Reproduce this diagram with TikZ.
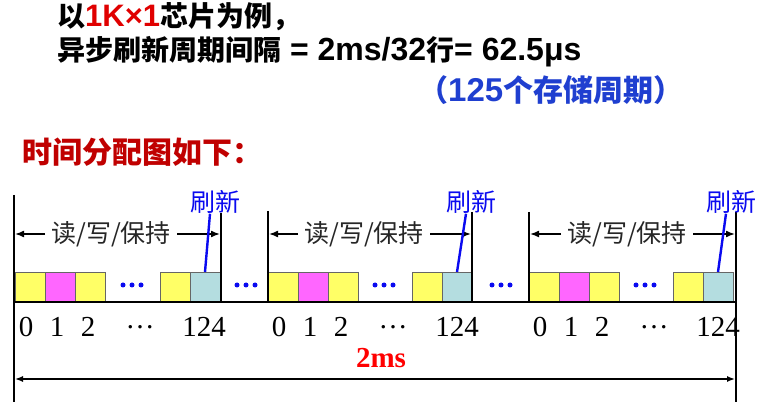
\documentclass[tikz,border=0pt]{standalone}
\usepackage{fontspec}
\setmainfont{Liberation Sans}
\newfontfamily\cjk{Noto Sans CJK SC}
\newfontfamily\tms{Liberation Serif}
\usetikzlibrary{arrows.meta,calc}
\definecolor{yel}{HTML}{FFFF66}
\definecolor{mag}{HTML}{FF66FF}
\definecolor{cya}{HTML}{B4DDE0}
\definecolor{dred}{HTML}{C00000}
\definecolor{tred}{HTML}{E00000}
\definecolor{tblue}{HTML}{1F3FD0}
\definecolor{rblue}{HTML}{0A0AF0}
\newcommand{\cj}[1]{{\cjk\bfseries\fontsize{28}{34}\selectfont #1}}
\newcommand{\cjb}[1]{{\cjk\bfseries\fontsize{30}{34}\selectfont #1}}
\begin{document}
\begin{tikzpicture}[x=1pt,y=-1pt,
  cell/.style={draw=black!60, line width=0.7pt, minimum width=30pt, minimum height=30pt, inner sep=0pt, outer sep=0pt, anchor=north west},
  rule/.style={line width=1.8pt, black},
  darr/.style={line width=1.6pt, -{Latex[length=9pt,width=7pt]}},
  rwtext/.style={font=\cjk\fontsize{25}{28}\selectfont, text=black!85, inner xsep=6pt, inner ysep=0pt},
  refresh/.style={font=\cjk\fontsize{25}{28}\selectfont, text=rblue, inner sep=0pt},
  rline/.style={rblue, line width=2.4pt},
  num/.style={font=\tms\fontsize{29}{32}\selectfont, inner sep=0pt},
  bdot/.style={circle, fill=rblue, inner sep=0pt, minimum size=5pt},
  title/.style={anchor=west, inner sep=0pt, font=\bfseries\fontsize{31}{34}\selectfont},
]
\fill[white] (0,0) rectangle (768,411);
\useasboundingbox (0,0) rectangle (768,411);

% title text
\node[title] (t1) at (57,17) {\cj{以}{\color{tred}1K×1}\cj{芯片为例，}};
\node[title, font=\bfseries\fontsize{32}{34}\selectfont] (t2) at (57,52) {\cj{异步刷新周期间隔} = 2ms/32\cj{行}= 62.5μs};
\node[title, text=tblue, font=\bfseries\fontsize{33}{36}\selectfont] (t3) at (418,90) {\cjb{（}125\cjb{个存储周期）}};
\node[title, text=dred] (t4) at (22,152) {{\cjk\bfseries\fontsize{30}{34}\selectfont 时间分配图如下：}};

% cells
\foreach \s/\A/\B in {1/15/160, 2/268/412, 3/529/673} {
  \node[cell, fill=yel] (a\s) at (\A,272) {};
  \node[cell, fill=mag] (b\s) at (\A+30,272) {};
  \node[cell, fill=yel] (c\s) at (\A+60,272) {};
  \node[cell, fill=yel] (d\s) at (\B,272) {};
  \node[cell, fill=cya] (e\s) at (\B+30,272) {};
}

% blue dots
\foreach \c [count=\k] in {132,246,384,501,645} {
  \node[bdot] (dl\k) at (\c-9,285) {};
  \node[bdot] (dm\k) at (\c,285) {};
  \node[bdot] (dr\k) at (\c+9,285) {};
}

% rules
\draw[rule] (14,195) -- (14,402);
\draw[rule] (736,212) -- (736,402);
\draw[rule] (221,213) -- (221,302);
\draw[rule] (268,211) -- (268,302);
\draw[rule] (472,212) -- (472,302);
\draw[rule] (529,212) -- (529,302);
\draw[rule] (14,302) -- (736,302);

% read/write/hold arrows
\foreach \s/\cx/\L/\R in {1/111/15/220, 2/364/269/471, 3/627/530/735} {
  \node[rwtext] (rw\s) at (\cx,234) {读/写/保持};
  \coordinate (la\s) at (\L,234);
  \coordinate (ra\s) at (\R,234);
  \draw[darr] (rw\s.west) -- (la\s);
  \draw[darr] (rw\s.east) -- (ra\s);
}

% refresh labels
\foreach \s/\cx in {1/215, 2/471, 3/731} {
  \node[refresh] (rf\s) at (\cx,202) {刷新};
  \draw[rline] ($(rf\s.south)+(-5,0)$) -- (e\s.north);
}

% numbers
\foreach \s/\A in {1/15, 2/268, 3/529} {
  \node[num] (n0\s) at (\A+11,327) {0};
  \node[num] (n1\s) at (\A+42,327) {1};
  \node[num] (n2\s) at (\A+73,327) {2};
  \node[num] (nd\s) at (\A+125,327) {\ldots};
  \node[num] (nl\s) at (\A+189,327) {124};
}

% 2ms
\node[font=\tms\bfseries\fontsize{29}{32}\selectfont, text=red, inner sep=0pt] (ms) at (381,358) {2ms};
\coordinate (bl) at (15,379);
\coordinate (br) at (735,379);
\draw[line width=1.4pt, {Latex[length=8pt,width=6pt]}-{Latex[length=8pt,width=6pt]}] (bl) -- (br);
\end{tikzpicture}
\end{document}
